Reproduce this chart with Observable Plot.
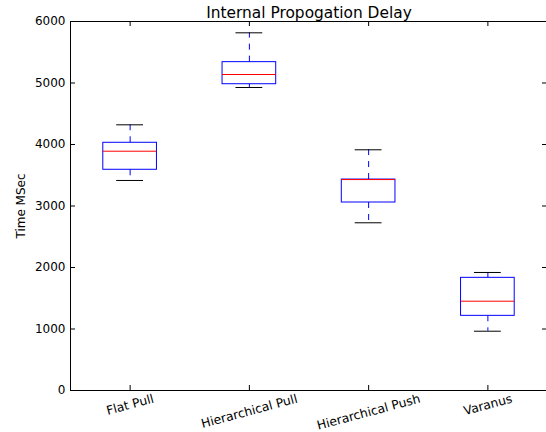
<!DOCTYPE html>
<html>
<head>
<meta charset="utf-8">
<script src="https://cdn.jsdelivr.net/npm/d3@7"></script>
<script src="https://cdn.jsdelivr.net/npm/@observablehq/plot@0.6"></script>
<style>
  html, body { margin: 0; padding: 0; background: white; }
  #chart svg { display: block; }
</style>
</head>
<body>
<div id="chart"></div>
<script>
// ---- data ----
const categories = ["Flat Pull", "Hierarchical Pull", "Hierarchical Push", "Varanus"];
const positions = [1, 2, 3, 4];
const whiskerLow = [3415, 4927, 2727, 964];
const q1 = [3589, 4980, 3057, 1214];
const median = [3891, 5138, 3430, 1452];
const q3 = [4028, 5339, 3430, 1832];
const whiskerHigh = [4320, 5816, 3914, 1919];
const yTicks = [0, 1000, 2000, 3000, 4000, 5000, 6000];
const title = "Internal Propogation Delay";
const yLabel = "Time MSec";

const data = categories.map((c, i) => ({
  c, pos: positions[i], lo: whiskerLow[i], q1: q1[i], med: median[i], q3: q3[i], hi: whiskerHigh[i]
}));

const W = 546, H = 432;
const mL = 70, mR = -1, mT = 21, mB = 42;
const plotW = W - mL - mR, plotH = H - mT - mB;
const tickLen = 5;
const boxHalf = 0.225, capHalf = 0.1125;
const font = "DejaVu Sans";
const xLabelSize = 12.3;

// measure label widths for matplotlib-like rotated label placement
const ctx = document.createElement("canvas").getContext("2d");
ctx.font = `${xLabelSize}px "${font}"`;
const rot = 15 * Math.PI / 180;
const labelMarks = data.map(d => {
  const w = ctx.measureText(d.c).width;
  const h = 14.5;
  const dy = 1 + (w * Math.sin(rot) + h * Math.cos(rot)) / 2;
  return Plot.text([d], {
    x: "pos", text: "c", frameAnchor: "bottom", dy,
    rotate: -15, textAnchor: "middle", lineAnchor: "middle", fontSize: xLabelSize, fill: "black"
  });
});

const chart = Plot.plot({
  width: W, height: H,
  marginLeft: mL, marginRight: mR, marginTop: mT, marginBottom: mB,
  style: { fontFamily: font, fontSize: "12px", color: "black", background: "white" },
  x: { domain: [0.5, 4.5], axis: null },
  y: { domain: [0, 6000], axis: null },
  marks: [
    // inward ticks on all sides
    Plot.tickY(yTicks, { y: d => d, insetRight: plotW - tickLen, stroke: "black" }),
    Plot.tickY(yTicks, { y: d => d, insetLeft: plotW - tickLen, stroke: "black" }),
    Plot.tickX(positions, { x: d => d, insetBottom: plotH - tickLen, stroke: "black" }),
    Plot.tickX(positions, { x: d => d, insetTop: plotH - tickLen, stroke: "black" }),
    // whiskers
    Plot.ruleX(data, { x: "pos", y1: "q3", y2: "hi", stroke: "blue", strokeDasharray: "6,6" }),
    Plot.ruleX(data, { x: "pos", y1: "q1", y2: "lo", stroke: "blue", strokeDasharray: "6,6" }),
    // caps
    Plot.ruleY(data, { y: "hi", x1: d => d.pos - capHalf, x2: d => d.pos + capHalf, stroke: "black" }),
    Plot.ruleY(data, { y: "lo", x1: d => d.pos - capHalf, x2: d => d.pos + capHalf, stroke: "black" }),
    // boxes
    Plot.rect(data, { x1: d => d.pos - boxHalf, x2: d => d.pos + boxHalf, y1: "q1", y2: "q3", fill: "none", stroke: "blue" }),
    // medians
    Plot.ruleY(data, { y: "med", x1: d => d.pos - boxHalf, x2: d => d.pos + boxHalf, stroke: "red" }),
    Plot.frame({ stroke: "black" }),
    // y tick labels
    Plot.axisY(yTicks, { tickSize: 0, tickPadding: 5, fontSize: 12, label: null, fill: "black", tickFormat: d => String(d) }),
    // x tick labels
    ...labelMarks,
    // y axis label
    Plot.text([yLabel], { frameAnchor: "left", dx: -49, rotate: -90, textAnchor: "middle", fontSize: 12, fill: "black" }),
    // title
    Plot.text([title], { frameAnchor: "top", x: () => 2.5, dy: -4, lineAnchor: "bottom", fontSize: 15.4, fill: "black" })
  ]
});
document.getElementById("chart").appendChild(chart);
</script>
</body>
</html>
